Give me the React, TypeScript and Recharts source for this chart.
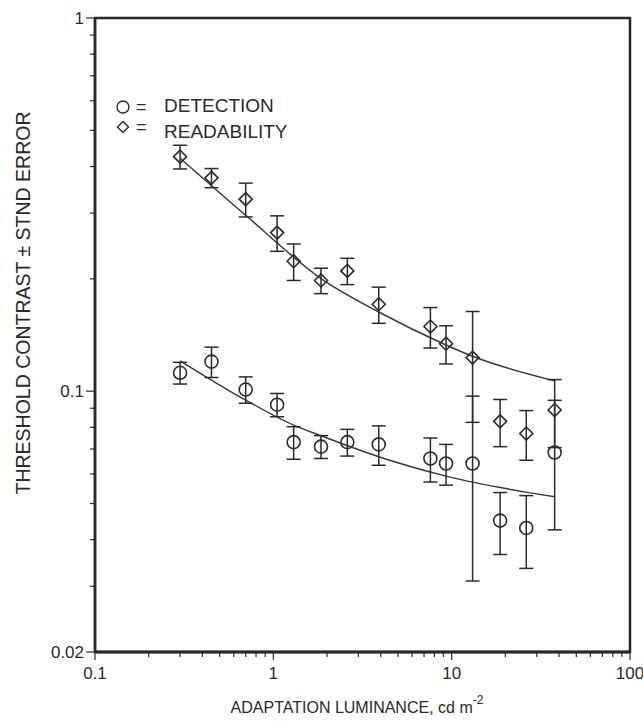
import {
  ComposedChart,
  ErrorBar,
  Line,
  ReferenceArea,
  Scatter,
  XAxis,
  YAxis,
} from 'recharts';

// adaptation luminance, cd m^-2 (same levels for both tasks)
const luminance = [0.3, 0.45, 0.7, 1.05, 1.3, 1.85, 2.6, 3.9, 7.6, 9.3, 13.1, 18.7, 26.2, 37.8];

const readabilityMean = [0.425, 0.373, 0.327, 0.266, 0.223, 0.198, 0.21, 0.171, 0.149, 0.134, 0.123, 0.083, 0.077, 0.089];
const readabilitySE = [0.031, 0.022, 0.034, 0.029, 0.025, 0.0155, 0.017, 0.019, 0.0185, 0.0157, 0.0405, 0.012, 0.0117, 0.0184];

const detectionMean = [0.112, 0.12, 0.101, 0.092, 0.073, 0.071, 0.073, 0.072, 0.066, 0.064, 0.064, 0.045, 0.043, 0.0685];
const detectionSE = [0.0075, 0.0112, 0.0082, 0.0066, 0.0073, 0.005, 0.006, 0.0087, 0.0089, 0.008, 0.033, 0.0085, 0.0095, 0.026];

// fitted curves
const readabilityFitX = [0.3, 0.7, 1.86, 3.9, 9.3, 13.1, 37.8];
const readabilityFitY = [0.421, 0.296, 0.2, 0.163, 0.133, 0.124, 0.1066];
const detectionFitX = [0.3, 0.7, 1.3, 1.87, 3.9, 9.3, 37.8];
const detectionFitY = [0.1206, 0.0946, 0.0811, 0.0758, 0.0667, 0.0592, 0.0521];

const xMajor = [0.1, 1, 10, 100];
const xMinor = [0.2, 0.3, 0.4, 0.5, 0.6, 0.7, 0.8, 0.9, 2, 3, 4, 5, 6, 7, 8, 9, 20, 30, 40, 50, 60, 70, 80, 90];
const yMajor = [0.02, 0.1, 1];
const yMinor = [0.03, 0.04, 0.05, 0.06, 0.07, 0.08, 0.09, 0.2, 0.3, 0.4, 0.5, 0.6, 0.7, 0.8, 0.9];

const readability = luminance.map((x, i) => ({ x, y: readabilityMean[i], se: readabilitySE[i] }));
const detection = luminance.map((x, i) => ({ x, y: detectionMean[i], se: detectionSE[i] }));
const readabilityFit = readabilityFitX.map((x, i) => ({ x, y: readabilityFitY[i] }));
const detectionFit = detectionFitX.map((x, i) => ({ x, y: detectionFitY[i] }));

const INK = '#2a2a2a';
const FONT = '"Liberation Sans", Arial, Helvetica, sans-serif';

/* eslint-disable @typescript-eslint/no-explicit-any */
function XTick({ x, y, payload }: any) {
  const major = xMajor.includes(payload.value);
  return (
    <g>
      <line x1={x} y1={y} x2={x} y2={y + (major ? 8 : 5)} stroke={INK} strokeWidth={1.2} />
      {major && (
        <text x={x} y={y + 27} textAnchor="middle" fontSize={17} fontFamily={FONT} fill={INK}>
          {payload.value}
        </text>
      )}
    </g>
  );
}

function YTick({ x, y, payload }: any) {
  const major = yMajor.includes(payload.value);
  return (
    <g>
      <line x1={x - (major ? 9 : 5)} y1={y} x2={x} y2={y} stroke={INK} strokeWidth={1.2} />
      {major && (
        <text x={x - 11} y={y + 6} textAnchor="end" fontSize={17} fontFamily={FONT} fill={INK}>
          {payload.value}
        </text>
      )}
    </g>
  );
}

function CircleMark({ cx, cy }: any) {
  return <circle cx={cx} cy={cy} r={6.5} fill="none" stroke={INK} strokeWidth={1.6} />;
}

function DiamondMark({ cx, cy }: any) {
  return (
    <polygon
      points={`${cx - 6.5},${cy} ${cx},${cy - 6.5} ${cx + 6.5},${cy} ${cx},${cy + 6.5}`}
      fill="none"
      stroke={INK}
      strokeWidth={1.6}
    />
  );
}

export default function App() {
  return (
    <div style={{ position: 'relative', width: 643, height: 721, background: '#fff' }}>
      <style>{'body{margin:0;background:#fff}'}</style>
      <ComposedChart width={643} height={721} margin={{ top: 18, right: 13, bottom: 0, left: 0 }}>
        <XAxis
          dataKey="x"
          type="number"
          scale="log"
          domain={[0.1, 100]}
          ticks={[...xMajor, ...xMinor]}
          interval={0}
          allowDataOverflow
          height={69}
          tickSize={0}
          tickMargin={0}
          tickLine={false}
          axisLine={{ stroke: INK, strokeWidth: 3 }}
          tick={<XTick />}
        />
        <YAxis
          dataKey="y"
          type="number"
          scale="log"
          domain={[0.02, 1]}
          ticks={[...yMajor, ...yMinor]}
          interval={0}
          allowDataOverflow
          width={95}
          tickSize={0}
          tickMargin={0}
          tickLine={false}
          axisLine={{ stroke: INK, strokeWidth: 2.5 }}
          tick={<YTick />}
        />
        <ReferenceArea
          x1={0.1}
          x2={100}
          y1={0.02}
          y2={1}
          fill="none"
          fillOpacity={0}
          stroke={INK}
          strokeWidth={2.5}
          ifOverflow="visible"
        />
        <Line
          data={readabilityFit}
          dataKey="y"
          type="monotone"
          stroke="#3a3a3a"
          strokeWidth={1.5}
          dot={false}
          activeDot={false}
          isAnimationActive={false}
        />
        <Line
          data={detectionFit}
          dataKey="y"
          type="monotone"
          stroke="#3a3a3a"
          strokeWidth={1.5}
          dot={false}
          activeDot={false}
          isAnimationActive={false}
        />
        <Scatter data={readability} dataKey="y" shape={<DiamondMark />} isAnimationActive={false}>
          <ErrorBar dataKey="se" direction="y" width={7} stroke={INK} strokeWidth={1.5} isAnimationActive={false} />
        </Scatter>
        <Scatter data={detection} dataKey="y" shape={<CircleMark />} isAnimationActive={false}>
          <ErrorBar dataKey="se" direction="y" width={7} stroke={INK} strokeWidth={1.5} isAnimationActive={false} />
        </Scatter>
      </ComposedChart>

      <svg
        width={643}
        height={721}
        style={{ position: 'absolute', left: 0, top: 0, pointerEvents: 'none' }}
        fontFamily={FONT}
        fill={INK}
      >
        {/* legend */}
        <circle cx={123} cy={107} r={6} fill="none" stroke={INK} strokeWidth={1.4} />
        <text x={136} y={113} fontSize={18}>=</text>
        <text x={164} y={112} fontSize={19}>DETECTION</text>
        <polygon points="117.5,127 123,121.5 128.5,127 123,132.5" fill="none" stroke={INK} strokeWidth={1.4} />
        <text x={136} y={133} fontSize={18}>=</text>
        <text x={164} y={138} fontSize={19}>READABILITY</text>

        {/* axis titles */}
        <text x={357} y={713} textAnchor="middle" fontSize={16}>
          ADAPTATION LUMINANCE, cd  m
          <tspan fontSize={12} dy={-9}>-2</tspan>
        </text>
        <text transform="translate(30,303) rotate(-90)" textAnchor="middle" fontSize={19.5}>
          THRESHOLD CONTRAST ± STND ERROR
        </text>
      </svg>
    </div>
  );
}
